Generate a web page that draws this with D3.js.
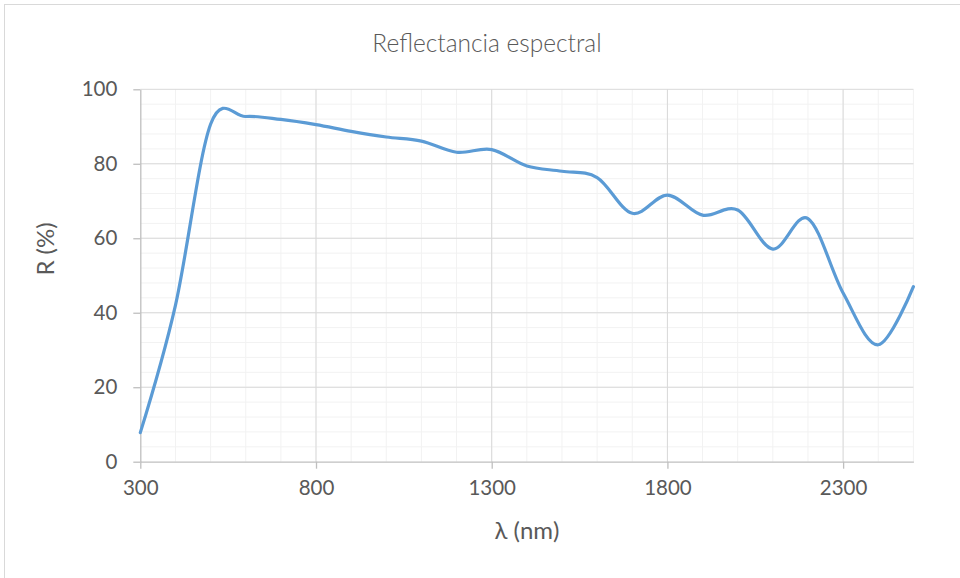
<!DOCTYPE html>
<html><head><meta charset="utf-8">
<script src="https://cdn.jsdelivr.net/npm/d3@7"></script>
<style>body{margin:0;background:#fff}svg{display:block}text{font-family:Lato,"Open Sans",sans-serif;fill:#595959}</style>
</head><body>
<svg id="c" width="960" height="578"></svg>
<script>
const wavelengths = [300,400,500,600,700,800,900,1000,1100,1200,1300,1400,1500,1600,1700,1800,1900,2000,2100,2200,2300,2400,2500];
const reflectance = [7.8,42,90.6,92.7,91.9,90.5,88.7,87.2,86.1,83.1,83.8,79.4,78.0,76.3,66.7,71.6,66.2,67.6,57.1,65.3,45.3,31.4,47.0];
const xTicks = [300,800,1300,1800,2300];
const yTicks = [0,20,40,60,80,100];
const title = "Reflectancia espectral";
const xLabel = "λ (nm)";
const yLabel = "R (%)";

const svg = d3.select("#c");
const L = 140.3, R = 913.4, T = 89.3, B = 461.7;
const x = d3.scaleLinear().domain([300,2500]).range([L,R]);
const y = d3.scaleLinear().domain([0,100]).range([B,T]);

svg.append("rect").attr("x",4.5).attr("y",4.5).attr("width",1000).attr("height",1000)
  .attr("fill","#fff").attr("stroke","#d9d9d9");

const g = svg.append("g");
// minor grid
g.selectAll(".vmin").data(d3.range(400,2501,100)).join("line")
  .attr("x1",d=>x(d)).attr("x2",d=>x(d)).attr("y1",T).attr("y2",B)
  .attr("stroke","#f2f2f2").attr("stroke-width",1);
g.selectAll(".hmin").data(d3.range(4,100,4)).join("line")
  .attr("x1",L).attr("x2",R).attr("y1",d=>y(d)).attr("y2",d=>y(d))
  .attr("stroke","#f2f2f2").attr("stroke-width",1);
// major grid
g.selectAll(".vmaj").data(xTicks.slice(1)).join("line")
  .attr("x1",d=>x(d)).attr("x2",d=>x(d)).attr("y1",T).attr("y2",B)
  .attr("stroke","#d9d9d9").attr("stroke-width",1);
g.selectAll(".hmaj").data(yTicks.slice(1)).join("line")
  .attr("x1",L).attr("x2",R).attr("y1",d=>y(d)).attr("y2",d=>y(d))
  .attr("stroke","#d9d9d9").attr("stroke-width",1);

// axes
const xAxis = svg.append("g").attr("transform",`translate(0,${B})`)
  .call(d3.axisBottom(x).tickValues(xTicks).tickSize(7).tickSizeOuter(0).tickPadding(12).tickFormat(d3.format("d")));
const yAxis = svg.append("g").attr("transform",`translate(${L},0)`)
  .call(d3.axisLeft(y).tickValues(yTicks).tickSize(7).tickSizeOuter(0).tickPadding(16));
[xAxis,yAxis].forEach(a=>{
  a.select(".domain").attr("stroke","#bfbfbf").attr("stroke-width",1.3);
  a.selectAll(".tick line").attr("stroke","#bfbfbf").attr("stroke-width",1.3);
  a.selectAll(".tick text").style("font-size","20.5px").attr("fill","#595959");
});

// line
const line = d3.line().x((d,i)=>x(wavelengths[i])).y(d=>y(d)).curve(d3.curveCatmullRom.alpha(0));
svg.append("path").datum(reflectance).attr("d",line)
  .attr("fill","none").attr("stroke","#5b9bd5").attr("stroke-width",3.2)
  .attr("stroke-linejoin","round").attr("stroke-linecap","round");

svg.append("text").attr("x",487).attr("y",52).attr("text-anchor","middle")
  .style("font-size","24.5px").style("font-weight","300").text(title);
svg.append("text").attr("x",527).attr("y",539).attr("text-anchor","middle")
  .style("font-size","24px").text(xLabel);
svg.append("text").attr("transform","translate(54,249) rotate(-90)").attr("text-anchor","middle")
  .style("font-size","24px").text(yLabel);
</script>
</body></html>
